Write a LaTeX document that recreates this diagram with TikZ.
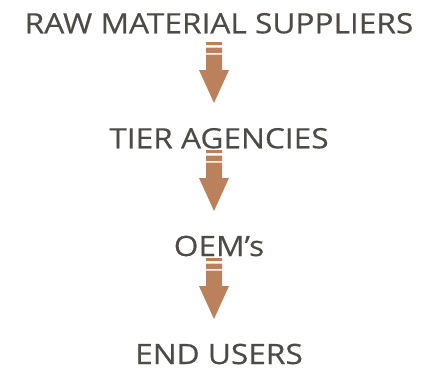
\documentclass[tikz,border=0pt]{standalone}
\usepackage{fontspec}
\setmainfont{Open Sans}[FakeStretch=1.13,FakeBold=0.4]
\definecolor{copper}{RGB}{186,129,92}
\definecolor{ink}{RGB}{77,74,71}
% striped block arrow hanging down from a named point
\newcommand{\stripedarrow}[1]{%
	\fill[copper,shift={(#1)}] (-8,0) rectangle (8,3)
	(-8,5.5) rectangle (8,11)
	(-8,12.5)--(8,12.5)--(8,28)--(15,28)--(0,61)--(-15,28)--(-8,28)--cycle;}
\begin{document}
\begin{tikzpicture}[x=1pt,y=-1pt,font=\fontsize{28}{32}\selectfont,
	stage/.style={text=ink,inner sep=0pt,anchor=base}]
	\useasboundingbox (0,0) rectangle (423,370);
	\node[stage] (raw) at (219,33.3) {RAW MATERIAL SUPPLIERS};
	\node[stage] (tier) at (219,148.3) {TIER AGENCIES};
	\node[stage] (oem) at (219,256) {OEM’s};
	\node[stage] (users) at (219,364) {END USERS};
	\coordinate (a1) at (214,42);
	\coordinate (a2) at (214,150);
	\coordinate (a3) at (214,258);
	\stripedarrow{a1}
	\stripedarrow{a2}
	\stripedarrow{a3}
\end{tikzpicture}
\end{document}
